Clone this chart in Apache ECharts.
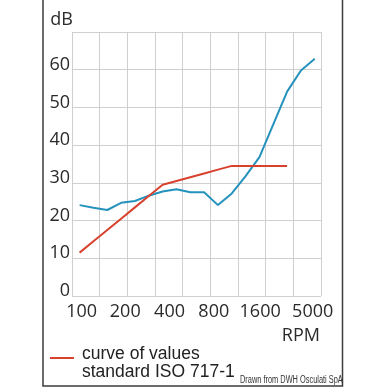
<!DOCTYPE html>
<html>
<head>
<meta charset="utf-8">
<script src="https://cdn.jsdelivr.net/npm/echarts@6/dist/echarts.min.js"></script>
<style>html,body{margin:0;padding:0;background:#fff}#c{width:387px;height:387px}</style>
</head>
<body>
<div id="c"></div>
<script>
// third-octave bands (RPM)
const bands = ['100','125','160','200','250','315','400','500','630','800','1000','1250','1600','2000','2500','3150','4000','5000'];
// measured curve (dB)
const measured = [24.1,23.4,22.8,24.7,25.2,26.6,27.7,28.3,27.5,27.5,24.1,27.2,31.8,36.8,45.5,54.2,59.8,62.9];
// ISO 717-1 reference curve (dB), 100 .. 3150
const reference = [11.5,14.5,17.5,20.5,23.5,26.5,29.5,30.5,31.5,32.5,33.5,34.5,34.5,34.5,34.5,34.5];
const yTickLabels = [0,10,20,30,40,50,60];
const xTickLabels = ['100','200','400','800','1600','5000'];
const xTickPos = [0.7,3.85,7.05,10.25,13.6,17.4];
const refName = 'curve of values\nstandard ISO 717-1';

const OFF = 0.55;
const RED = '#d8412e', BLUE = '#2592bd';
const chart = echarts.init(document.getElementById('c'), null, {renderer:'canvas'});
chart.setOption({
  animation: false,
  backgroundColor: '#fff',
  grid: {left: 72, right: 66, top: 32, bottom: 91, containLabel: false, outerBoundsMode: 'none'},
  xAxis: {
    type: 'value', min: 0, max: 18, interval: 2,
    axisLine: {show: false}, axisTick: {show: false},
    splitLine: {show: true, lineStyle: {color: '#cfcfcf', width: 1}},
    axisLabel: {
      customValues: xTickPos,
      formatter: v => { const k = xTickPos.indexOf(v); return k >= 0 ? xTickLabels[k] : ''; },
      fontFamily: "'Open Sans', sans-serif", fontSize: 18, color: '#2a2a2a', margin: 7, lineHeight: 18
    }
  },
  yAxis: {
    type: 'value', min: 0, max: 70, interval: 10,
    name: 'dB', nameLocation: 'end', nameGap: 12,
    nameTextStyle: {fontFamily: "'Open Sans', sans-serif", fontSize: 18, color: '#2a2a2a', align: 'right', verticalAlign: 'middle', padding: [0, -1, 0, 0]},
    axisLine: {show: false}, axisTick: {show: false},
    splitLine: {show: true, lineStyle: {color: '#cfcfcf', width: 1}},
    axisLabel: {
      formatter: v => yTickLabels.indexOf(v) >= 0 ? String(v) : '',
      fontFamily: "'Open Sans', sans-serif", fontSize: 18, color: '#2a2a2a', margin: 2,
      verticalAlign: 'bottom', lineHeight: 10
    }
  },
  series: [
    {
      name: 'measured', type: 'line', symbol: 'none',
      data: measured.map((v, i) => [i + OFF, v]),
      lineStyle: {color: BLUE, width: 2}, itemStyle: {color: BLUE}
    },
    {
      name: refName, type: 'line', symbol: 'none',
      data: reference.map((v, i) => [i + OFF, v]),
      lineStyle: {color: RED, width: 2}, itemStyle: {color: RED}
    }
  ],
  graphic: [
    {type: 'polyline', shape: {points: [[43,-5],[43,386],[342.5,386],[342.5,-5]]}, style: {stroke: '#3c3c3c', lineWidth: 1.5, fill: null}, silent: true},
    {type: 'line', shape: {x1: 50, y1: 358, x2: 74, y2: 358}, style: {stroke: RED, lineWidth: 2}},
    {type: 'text', x: 82, y: 344.7, style: {text: refName, font: "17.5px 'Liberation Sans', Arial, sans-serif", lineHeight: 18.4, verticalAlign: 'top', fill: '#222'}},
    {type: 'text', right: 387 - 320, top: 327, style: {text: 'RPM', font: "18px 'Open Sans', sans-serif", fill: '#2a2a2a'}},
    {type: 'text', x: 240, y: 375, scaleX: 0.74, originX: 0, style: {text: 'Drawn from DWH Osculati SpA', font: "10px 'Liberation Sans', Arial, sans-serif", fill: '#333'}}
  ]
});
</script>
</body>
</html>
